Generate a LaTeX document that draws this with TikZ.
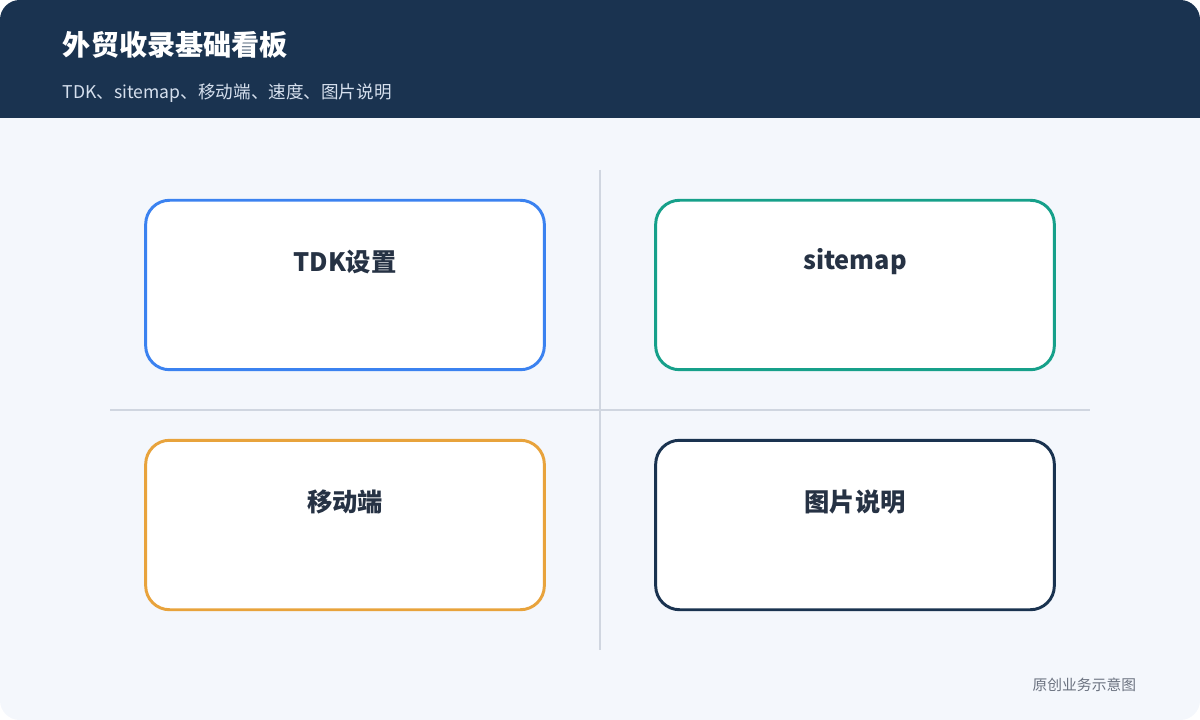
\documentclass[tikz,border=0pt]{standalone}
\usepackage{fontspec}
\setmainfont{Noto Sans CJK SC}
\usetikzlibrary{positioning}
\definecolor{navy}{HTML}{1A3350}
\definecolor{pagebg}{HTML}{F4F7FC}
\definecolor{rulegray}{HTML}{D0D6E0}
\definecolor{cblue}{HTML}{3B82F0}
\definecolor{cteal}{HTML}{16A08A}
\definecolor{corange}{HTML}{E8A33C}
\definecolor{textdark}{HTML}{263244}
\definecolor{subtext}{HTML}{D6E0EE}
\definecolor{foot}{HTML}{6B7280}
\tikzset{
  card/.style={draw=#1,fill=white,line width=2.1pt,rounded corners=17pt,minimum width=283.5pt,minimum height=120.5pt},
  cardlabel/.style={font=\fontsize{18}{22}\selectfont\bfseries,text=textdark},
  divider/.style={draw=rulegray,line width=2pt}
}
\begin{document}
\begin{tikzpicture}[x=0.025cm,y=-0.025cm]
\useasboundingbox (0,0) rectangle (1200,720);
\fill[pagebg,rounded corners=14pt] (0,0) rectangle (1200,720);
\fill[navy,rounded corners=14pt] (0,0) rectangle (1200,60);
\fill[navy] (0,30) rectangle (1200,118);

\node[anchor=west,text=white,font=\fontsize{20}{24}\selectfont\bfseries] (title) at (58,45) {外贸收录基础看板};
\node[anchor=west,text=subtext,font=\fontsize{12.5}{15}\selectfont] (sub) at (58,93) {TDK、sitemap、移动端、速度、图片说明};

\draw[divider] (600,170) -- (600,650);
\draw[divider] (110,410) -- (1090,410);

\node[card=cblue] (tdk) at (345,285) {};
\node[card=cteal] (site) at (855,285) {};
\node[card=corange] (mobile) at (345,525) {};
\node[card=navy] (img) at (855,525) {};

\node[cardlabel] at (345,262) {TDK设置};
\node[cardlabel] at (855,262) {sitemap};
\node[cardlabel] at (345,502) {移动端};
\node[cardlabel] at (855,502) {图片说明};

\node[anchor=east,text=foot,font=\fontsize{10.5}{13}\selectfont] (note) at (1141,685) {原创业务示意图};
\end{tikzpicture}
\end{document}
